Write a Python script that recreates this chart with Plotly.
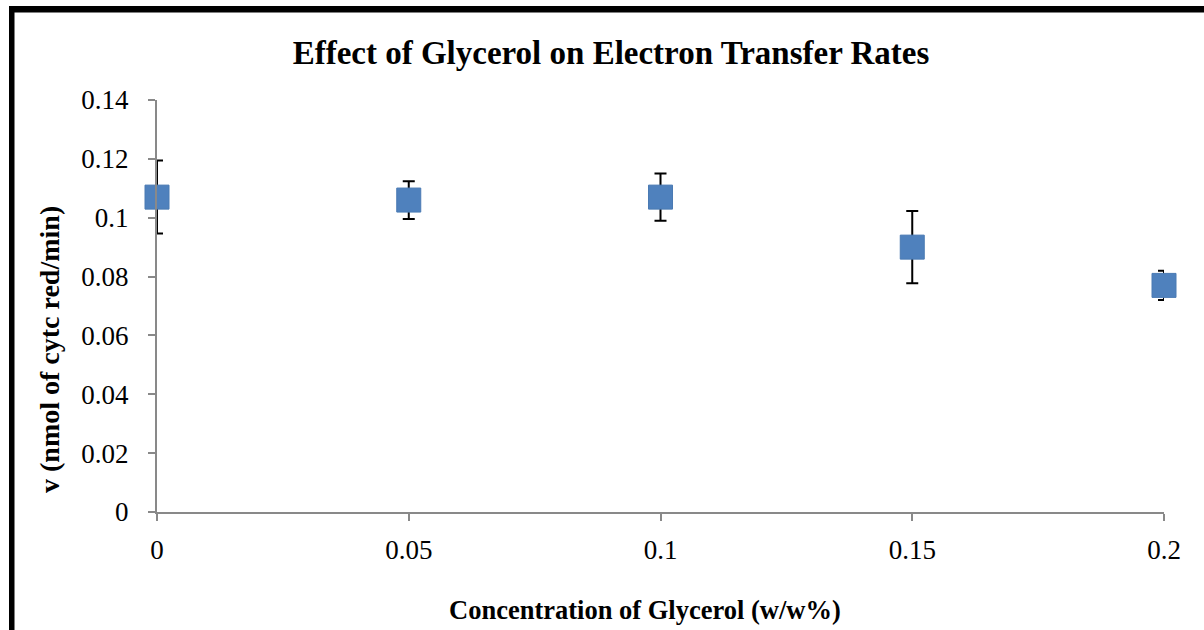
import plotly.graph_objects as go

# Data
glycerol = [0, 0.05, 0.1, 0.15, 0.2]
rate = [0.107, 0.106, 0.107, 0.090, 0.077]
rate_err = [0.0124, 0.0064, 0.008, 0.0123, 0.005]

y_ticks = [0, 0.02, 0.04, 0.06, 0.08, 0.1, 0.12, 0.14]
y_tick_labels = ["0", "0.02", "0.04", "0.06", "0.08", "0.1", "0.12", "0.14"]
x_ticks = [0, 0.05, 0.1, 0.15, 0.2]
x_tick_labels = ["0", "0.05", "0.1", "0.15", "0.2"]

W, H = 1204, 630
L, R, T, B = 157, 40, 100, 118
PW, PH = W - L - R, H - T - B


def px_x(px):
    return (px - L) / PW


def px_y(py):
    return (H - B - py) / PH


fig = go.Figure()
fig.add_trace(go.Scatter(
    x=glycerol, y=rate, mode="markers",
    marker=dict(symbol="square", size=24, color="#4F81BD",
                line=dict(color="#4A7AB3", width=1)),
    error_y=dict(type="data", array=rate_err, visible=True,
                 color="black", thickness=2, width=6),
    cliponaxis=False, showlegend=False,
))

axis_font = dict(family="Liberation Serif", size=27, color="black")

fig.update_layout(
    width=W, height=H,
    margin=dict(l=L, r=R, t=T, b=B),
    paper_bgcolor="white", plot_bgcolor="white",
    title=dict(text="<b>Effect of Glycerol on Electron Transfer Rates</b>",
               font=dict(family="Liberation Serif", size=33, color="black"),
               x=611 / W, xanchor="center", y=1 - 52 / H, yanchor="middle",
               yref="container"),
    xaxis=dict(range=[0, 0.2], tickvals=x_ticks, ticktext=x_tick_labels,
               showgrid=False, zeroline=False, showline=True,
               linecolor="#898989", linewidth=2, ticks="outside",
               ticklen=7, tickwidth=2, tickcolor="#898989",
               tickfont=axis_font, ticklabelstandoff=6),
    yaxis=dict(range=[0, 0.14], tickvals=y_ticks, ticktext=y_tick_labels,
               showgrid=False, zeroline=False, showline=True,
               linecolor="#898989", linewidth=2, ticks="outside",
               ticklen=7, tickwidth=2, tickcolor="#898989",
               tickfont=axis_font, ticklabelstandoff=14),
    annotations=[
        dict(text="<b>Concentration of Glycerol (w/w%)</b>",
             x=px_x(645), y=px_y(610), xref="paper", yref="paper",
             xanchor="center", yanchor="middle", showarrow=False,
             font=dict(family="Liberation Serif", size=26.5, color="black")),
        dict(text="<b>v (nmol of cytc red/min)</b>",
             x=px_x(49), y=px_y(350), xref="paper", yref="paper",
             xanchor="center", yanchor="middle", showarrow=False,
             textangle=-90,
             font=dict(family="Liberation Serif", size=28, color="black")),
    ],
    shapes=[
        dict(type="rect", xref="paper", yref="paper",
             x0=px_x(9), x1=px_x(14.5), y0=px_y(6), y1=px_y(640),
             fillcolor="black", line=dict(width=0), layer="above"),
        dict(type="rect", xref="paper", yref="paper",
             x0=px_x(9), x1=px_x(1210), y0=px_y(6), y1=px_y(12.5),
             fillcolor="black", line=dict(width=0), layer="above"),
    ],
)

fig.write_html("out.html",
               config={"displayModeBar": False},
               post_script="document.body.style.margin='0';"
                           "document.body.style.overflow='hidden';")
